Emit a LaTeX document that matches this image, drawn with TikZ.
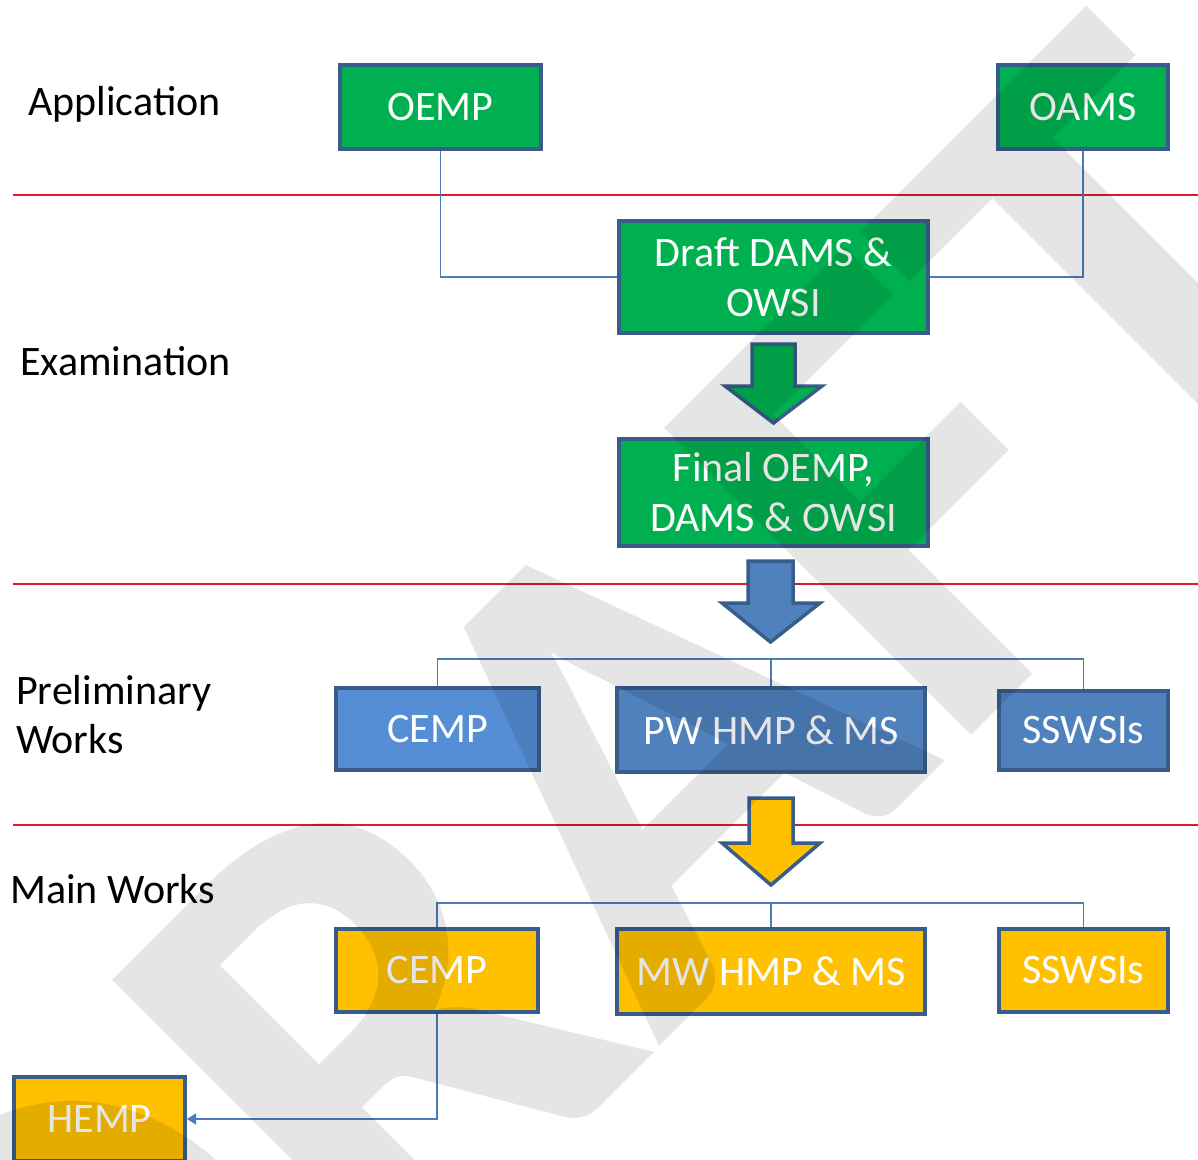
\documentclass[tikz,border=0pt]{standalone}
\usepackage{fontspec}
\setmainfont{Carlito}
\usetikzlibrary{arrows.meta,backgrounds}
\definecolor{boxgreen}{HTML}{00B050}
\definecolor{boxblue}{HTML}{4F81BD}
\definecolor{boxblueL}{HTML}{558ED5}
\definecolor{boxyellow}{HTML}{FFC000}
\definecolor{edgecol}{HTML}{385D8A}
\definecolor{conncol}{HTML}{4A7EBB}
\definecolor{sepred}{RGB}{220,30,36}
\begin{document}
\begin{tikzpicture}[x=1pt,y=-1pt,
  box/.style={draw=edgecol, line width=4pt, text=white, font=\fontsize{42}{50}\selectfont, align=center, inner sep=0pt},
  lbl/.style={font=\fontsize{42}{49}\selectfont, text=black, align=left, inner sep=0pt, anchor=base west},
  cline/.style={draw=conncol, line width=1.5pt},
  sepline/.style={draw=sepred, line width=1.8pt},
  blockarrow/.style={draw=edgecol, line width=3.5pt, line join=miter}
]
\useasboundingbox (0,0) rectangle (1198,1159);

% labels
\node[lbl] (lapp) at (28,115) {Application};
\node[lbl] (lexa) at (20,375) {Examination};
\node[lbl] (lpre) at (16,753) {Preliminary\\Works};
\node[lbl] (lmain) at (10,903) {Main Works};

% boxes
\node[box, fill=boxgreen, minimum width=201pt, minimum height=84pt] (oemp) at (440.5,107) {OEMP};
\node[box, fill=boxgreen, minimum width=170pt, minimum height=84pt] (oams) at (1083,107) {OAMS};
\node[box, fill=boxgreen, minimum width=309pt, minimum height=112pt] (draft) at (773.5,277) {Draft DAMS \&\\OWSI};
\node[box, fill=boxgreen, minimum width=309pt, minimum height=107pt] (final) at (773.5,492.5) {Final OEMP,\\DAMS \& OWSI};

\node[box, fill=boxblueL, minimum width=203pt, minimum height=82pt] (cemp1) at (437.5,729) {CEMP};
\node[box, fill=boxblue, minimum width=308pt, minimum height=84pt] (pw) at (771,730) {PW HMP \& MS};
\node[box, fill=boxblue, minimum width=169pt, minimum height=79pt] (ssw1) at (1083.5,730.5) {SSWSIs};

\node[box, fill=boxyellow, minimum width=202pt, minimum height=83pt] (cemp2) at (437,970.5) {CEMP};
\node[box, fill=boxyellow, minimum width=308pt, minimum height=85pt] (mw) at (771,971.5) {MW HMP \& MS};
\node[box, fill=boxyellow, minimum width=169pt, minimum height=83pt] (ssw2) at (1083.5,970.5) {SSWSIs};

\node[box, fill=boxyellow, minimum width=171pt, minimum height=84pt] (hemp) at (99.5,1119) {HEMP};

\coordinate (bus1) at (770,659);
\coordinate (bus2) at (770,903);

\begin{pgfonlayer}{background}
  \fill[white] (0,0) rectangle (1198,1159);
  \draw[sepline] (13,195) -- (1198,195);
  \draw[sepline] (13,584) -- (1198,584);
  \draw[sepline] (13,825) -- (1198,825);
  \draw[cline] (oemp.south) |- (draft.west);
  \draw[cline] (oams.south) |- (draft.east);
  \draw[cline] (cemp1.north) -- (cemp1.north |- bus1) -- (ssw1.north |- bus1) -- (ssw1.north);
  \draw[cline] (pw.north) -- (pw.north |- bus1);
  \draw[cline] (cemp2.north) -- (cemp2.north |- bus2) -- (ssw2.north |- bus2) -- (ssw2.north);
  \draw[cline] (mw.north) -- (mw.north |- bus2);
\end{pgfonlayer}

\draw[cline, -{Triangle[length=9pt,width=11pt]}] (cemp2.south) |- (hemp.east);

% block arrows
\draw[blockarrow, fill=boxgreen] (752,344) -- (795,344) -- (795,386) -- (822,386) -- (773.5,423) -- (725,386) -- (752,386) -- cycle;
\draw[blockarrow, fill=boxblue] (748,561) -- (793,561) -- (793,603) -- (820,603) -- (770.5,642) -- (722,603) -- (748,603) -- cycle;
\draw[blockarrow, fill=boxyellow] (749,798) -- (793,798) -- (793,843) -- (820,843) -- (771,885) -- (722,843) -- (749,843) -- cycle;

% watermark
\node[rotate=45, anchor=north east, inner sep=0pt, text=black, text opacity=0.1, font=\fontsize{670}{680}\selectfont\bfseries] (wm) at (1091,1) {DRAFT};
\end{tikzpicture}
\end{document}
